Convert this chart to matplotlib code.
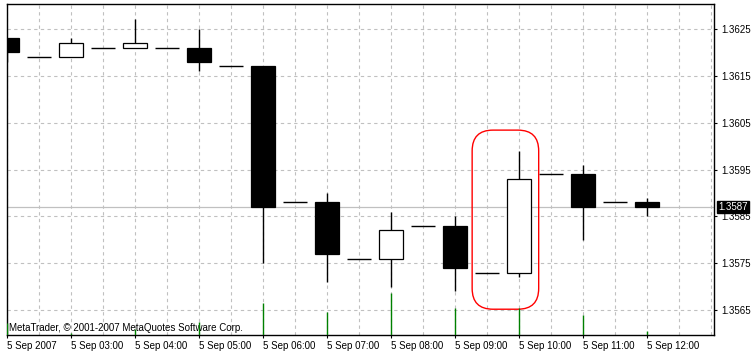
import matplotlib
matplotlib.use("Agg")
import matplotlib.pyplot as plt
import matplotlib.transforms as mtransforms
from matplotlib.patches import Rectangle, FancyBboxPatch

# 30 minute bars, 5 Sep 2007 02:00 .. 12:00
opens  = [1.3623, 1.3619, 1.3619, 1.3621, 1.3621, 1.3621, 1.3621, 1.3617, 1.3617, 1.3588, 1.3588,
          1.3576, 1.3576, 1.3583, 1.3583, 1.3573, 1.3573, 1.3594, 1.3594, 1.3588, 1.3588]
highs  = [1.3623, 1.3619, 1.3623, 1.3621, 1.3627, 1.3621, 1.3625, 1.3617, 1.3617, 1.3588, 1.3590,
          1.3576, 1.3586, 1.3583, 1.3585, 1.3573, 1.3599, 1.3594, 1.3596, 1.3588, 1.3589]
lows   = [1.3618, 1.3619, 1.3619, 1.3621, 1.3621, 1.3621, 1.3616, 1.3617, 1.3575, 1.3588, 1.3571,
          1.3576, 1.3570, 1.3583, 1.3569, 1.3573, 1.3572, 1.3594, 1.3580, 1.3588, 1.3585]
closes = [1.3620, 1.3619, 1.3622, 1.3621, 1.3622, 1.3621, 1.3618, 1.3617, 1.3587, 1.3588, 1.3577,
          1.3576, 1.3582, 1.3583, 1.3574, 1.3573, 1.3593, 1.3594, 1.3587, 1.3588, 1.3587]

# hourly labels (every second bar)
hour_labels = ["5 Sep 2007", "5 Sep 03:00", "5 Sep 04:00", "5 Sep 05:00", "5 Sep 06:00",
               "5 Sep 07:00", "5 Sep 08:00", "5 Sep 09:00", "5 Sep 10:00", "5 Sep 11:00",
               "5 Sep 12:00"]
# green separator/volume marks at the hour bars
hour_volume = [12, 2, 6, 13, 32, 23, 42, 27, 27, 20, 4]

price_ticks = [1.3565, 1.3575, 1.3585, 1.3595, 1.3605, 1.3615, 1.3625]
bid = 1.3587

# highlighted area (bars, price)
hl_x0, hl_x1 = 14.53, 16.61
hl_y0, hl_y1 = 1.35652, 1.36034

plt.rcParams['font.family'] = ['Liberation Sans', 'DejaVu Sans']
plt.rcParams['font.size'] = 7

W, H = 754, 358
fig = plt.figure(figsize=(W / 100, H / 100), dpi=100)
ax = fig.add_axes([7 / W, 23 / H, 707 / W, 331 / H])

xmin, xmax = -0.01, 22.09
ymin, ymax = 1.35597, 1.36303
ax.set_xlim(xmin, xmax)
ax.set_ylim(ymin, ymax)

grid_col = '#c0c0c0'
# grid
for i in range(0, 23):
    ax.axvline(i, color=grid_col, lw=0.8, ls=(0, (3, 3)), zorder=0)
for p in price_ticks:
    ax.axhline(p, color=grid_col, lw=0.8, ls=(0, (3, 3)), zorder=0)
ax.axhline(bid, color=grid_col, lw=0.9, zorder=1)

# volume marks on a hidden twin axis
ax2 = ax.twinx()
ax2.set_ylim(0, 331)
ax2.axis('off')
hour_idx = list(range(0, 2 * len(hour_labels), 2))
ax2.vlines(hour_idx, 0, hour_volume, color='#008000', lw=1.0)

# candles
bw = 0.76
for i in range(len(opens)):
    o, h, l, c = opens[i], highs[i], lows[i], closes[i]
    ax.vlines(i, l, h, color='black', lw=1.0, zorder=3)
    if o == c:
        ax.hlines(o, i - bw / 2, i + bw / 2, color='black', lw=1.0, zorder=4)
    else:
        fill = 'white' if c > o else 'black'
        ax.add_patch(Rectangle((i - bw / 2, min(o, c)), bw, abs(c - o),
                               facecolor=fill, edgecolor='black', lw=0.9, zorder=4))

# red rounded highlight
ax_w_px = 707
ax_h_px = 331
aspect = ((ymax - ymin) / ax_h_px) / ((xmax - xmin) / ax_w_px)
ax.add_patch(FancyBboxPatch((hl_x0, hl_y0), hl_x1 - hl_x0, hl_y1 - hl_y0,
                            boxstyle="round,pad=0,rounding_size=0.65",
                            mutation_aspect=aspect, facecolor='none',
                            edgecolor='red', lw=1.0, zorder=5))

# axes cosmetics
ax.yaxis.tick_right()
ax.set_yticks(price_ticks)
ax.set_yticklabels(["%.4f" % p for p in price_ticks])
ax.set_xticks(hour_idx)
ax.set_xticklabels(hour_labels, ha='left')
ax.tick_params(axis='both', direction='out', length=2.5, width=0.8, colors='black')
ax.tick_params(axis='x', pad=1.5)
ax.tick_params(axis='y', pad=2.5)
for s in ax.spines.values():
    s.set_linewidth(1.0)
    s.set_color('black')

# bid label
ax.text(1.0, bid, "1.3587", transform=mtransforms.blended_transform_factory(ax.transAxes, ax.transData),
        color='white', fontsize=7, va='center', ha='left', zorder=10, clip_on=False,
        bbox=dict(boxstyle='square,pad=0.15', facecolor='black', edgecolor='black'))
# shift it a bit right
ax.texts[-1].set_x(1.0 + 4 / ax_w_px)

ax.annotate("MetaTrader, \u00a9 2001-2007 MetaQuotes Software Corp.", xy=(0, 0), xycoords='axes fraction',
            xytext=(2, 4), textcoords='offset pixels', fontsize=7, va='baseline', ha='left', zorder=6)

fig.savefig("out.png", dpi=100, facecolor='white')
